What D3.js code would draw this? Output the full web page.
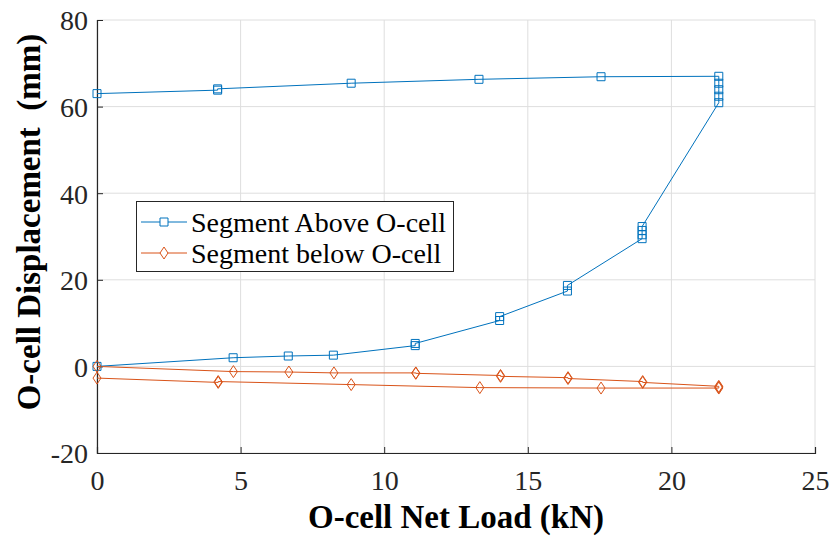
<!DOCTYPE html>
<html>
<head>
<meta charset="utf-8">
<script src="https://cdn.jsdelivr.net/npm/d3@7"></script>
<style>
  html, body { margin: 0; padding: 0; background: #fff; }
  svg { display: block; }
</style>
</head>
<body>
<svg id="chart" width="835" height="540"></svg>
<script>
// ---- data ----
const loadAbove = [0, 4.74, 6.66, 8.23, 11.08, 11.08, 14.02, 14.02, 16.38, 16.38, 18.98, 18.98, 18.98, 18.98, 21.65, 21.65, 21.65, 21.65, 21.65, 17.55, 13.3, 8.85, 4.2, 4.2, 0];
const dispAbove = [0, 2.0, 2.4, 2.6, 4.8, 5.3, 10.6, 11.5, 17.4, 18.7, 29.5, 30.4, 31.4, 32.3, 60.9, 62.4, 63.9, 65.4, 67.0, 66.9, 66.3, 65.4, 64.1, 63.8, 63.0];
const loadBelow = [0, 4.75, 6.68, 8.25, 11.1, 11.1, 14.05, 14.05, 16.4, 16.4, 19.0, 19.0, 21.65, 21.65, 21.65, 17.55, 13.33, 8.85, 4.22, 4.22, 0];
const dispBelow = [0, -1.2, -1.3, -1.5, -1.5, -1.6, -2.1, -2.3, -2.6, -2.8, -3.5, -3.7, -4.6, -4.8, -5.0, -5.0, -4.9, -4.2, -3.5, -3.7, -2.7];
const seriesNames = ["Segment Above O-cell", "Segment below O-cell"];
const xTicks = [0, 5, 10, 15, 20, 25];
const yTicks = [-20, 0, 20, 40, 60, 80];
const xTickLabels = ["0", "5", "10", "15", "20", "25"];
const yTickLabels = ["-20", "0", "20", "40", "60", "80"];
const xLabel = "O-cell Net Load (kN)";
const yLabel = "O-cell Displacement\u00a0\u00a0(mm)";

// ---- layout ----
const colors = ["#0072BD", "#D95319"];
const svg = d3.select("#chart");
const L = 97, R = 815, T = 20, B = 453;
const x = d3.scaleLinear().domain([0, 25]).range([L, R]);
const y = d3.scaleLinear().domain([-20, 80]).range([B, T]);
const serif = "'Liberation Serif', 'Times New Roman', serif";

// grid
const grid = svg.append("g").attr("stroke", "#dedede").attr("stroke-width", 1);
xTicks.forEach(t => grid.append("line").attr("x1", x(t)).attr("x2", x(t)).attr("y1", T).attr("y2", B));
yTicks.forEach(t => grid.append("line").attr("x1", L).attr("x2", R).attr("y1", y(t)).attr("y2", y(t)));

// axes
const xAxis = d3.axisBottom(x).tickValues(xTicks).tickSize(-6).tickPadding(20)
  .tickFormat((d, i) => xTickLabels[i]);
const yAxis = d3.axisLeft(y).tickValues(yTicks).tickSize(-6).tickPadding(9)
  .tickFormat((d, i) => yTickLabels[i]);
const gx = svg.append("g").attr("transform", `translate(0,${B})`).call(xAxis);
const gy = svg.append("g").attr("transform", `translate(${L},0)`).call(yAxis);
[gx, gy].forEach(g => {
  g.select(".domain").attr("stroke", "#262626").attr("stroke-width", 1.2);
  g.selectAll(".tick line").attr("stroke", "#262626");
  g.selectAll(".tick text").attr("font-family", serif).attr("font-size", 28).attr("fill", "#262626");
});
gx.selectAll(".tick text").attr("dy", "0.71em").attr("y", 17);
gy.selectAll(".tick text").attr("dy", "0.35em");

// labels
svg.append("text").attr("x", (L + R) / 2).attr("y", 528).attr("text-anchor", "middle")
  .attr("font-family", serif).attr("font-weight", "bold").attr("font-size", 33)
  .attr("fill", "#000").text(xLabel);
svg.append("text").attr("transform", `translate(40,222) rotate(-90)`).attr("text-anchor", "middle")
  .attr("font-family", serif).attr("font-weight", "bold").attr("font-size", 33)
  .attr("fill", "#000").text(yLabel);

// lines + markers
const line = d3.line().x(d => x(d[0])).y(d => y(d[1]));
const above = loadAbove.map((v, i) => [v, dispAbove[i]]);
const below = loadBelow.map((v, i) => [v, dispBelow[i]]);

const sq = d3.symbol().type(d3.symbolSquare).size(64);
const diamondPath = "M0,-6L4,0L0,6L-4,0Z";

svg.append("path").datum(above).attr("d", line).attr("fill", "none").attr("stroke", colors[0]).attr("stroke-width", 1);
svg.append("path").datum(below).attr("d", line).attr("fill", "none").attr("stroke", colors[1]).attr("stroke-width", 1);

svg.append("g").selectAll("path").data(above).join("path")
  .attr("d", sq).attr("transform", d => `translate(${x(d[0])},${y(d[1])})`)
  .attr("fill", "none").attr("stroke", colors[0]).attr("stroke-width", 1);
svg.append("g").selectAll("path").data(below).join("path")
  .attr("d", diamondPath).attr("transform", d => `translate(${x(d[0])},${y(d[1])})`)
  .attr("fill", "none").attr("stroke", colors[1]).attr("stroke-width", 1);

// legend
const lg = svg.append("g");
lg.append("rect").attr("x", 136.5).attr("y", 201.5).attr("width", 317).attr("height", 70)
  .attr("fill", "#fff").attr("stroke", "#262626").attr("stroke-width", 1);
const rows = [222, 253];
seriesNames.forEach((name, i) => {
  lg.append("line").attr("x1", 141).attr("x2", 187).attr("y1", rows[i]).attr("y2", rows[i])
    .attr("stroke", colors[i]).attr("stroke-width", 1);
  if (i === 0) {
    lg.append("path").attr("d", sq).attr("transform", `translate(164,${rows[i]})`)
      .attr("fill", "#fff").attr("stroke", colors[i]);
  } else {
    lg.append("path").attr("d", diamondPath).attr("transform", `translate(164,${rows[i]})`)
      .attr("fill", "#fff").attr("stroke", colors[i]);
  }
  lg.append("text").attr("x", 191).attr("y", rows[i]).attr("dy", "0.35em")
    .attr("font-family", serif).attr("font-size", 28).attr("fill", "#000").text(name);
});
</script>
</body>
</html>
